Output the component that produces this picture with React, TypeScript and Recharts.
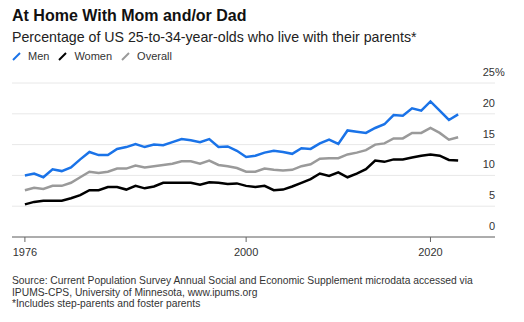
import React from 'react';
import { LineChart, Line, XAxis, YAxis, CartesianGrid } from 'recharts';

const years = [
  1976, 1977, 1978, 1979, 1980, 1981, 1982, 1983, 1984, 1985, 1986, 1987,
  1988, 1989, 1990, 1991, 1992, 1993, 1994, 1995, 1996, 1997, 1998, 1999,
  2000, 2001, 2002, 2003, 2004, 2005, 2006, 2007, 2008, 2009, 2010, 2011,
  2012, 2013, 2014, 2015, 2016, 2017, 2018, 2019, 2020, 2021, 2022, 2023,
];

const men = [
  10.0, 10.3, 9.7, 11.0, 10.7, 11.3, 12.6, 13.8, 13.3, 13.3, 14.3, 14.6,
  15.1, 14.6, 15.0, 14.9, 15.4, 15.9, 15.7, 15.4, 15.9, 14.6, 14.7, 14.0,
  13.0, 13.2, 13.7, 14.0, 13.8, 13.5, 14.4, 14.3, 15.2, 15.8, 15.1, 17.3,
  17.1, 16.9, 17.7, 18.3, 19.8, 19.7, 20.9, 20.5, 22.0, 20.5, 19.0, 19.9,
];

const women = [
  5.3, 5.7, 5.9, 5.9, 5.9, 6.3, 6.8, 7.6, 7.6, 8.1, 8.1, 7.7,
  8.3, 7.9, 8.2, 8.8, 8.8, 8.8, 8.8, 8.5, 8.9, 8.8, 8.6, 8.7,
  8.3, 8.1, 8.3, 7.6, 7.7, 8.2, 8.8, 9.4, 10.3, 9.9, 10.5, 9.7,
  10.3, 11.0, 12.4, 12.2, 12.6, 12.6, 12.9, 13.2, 13.4, 13.2, 12.5, 12.4,
];

const overall = [
  7.6, 8.0, 7.8, 8.3, 8.3, 8.8, 9.7, 10.6, 10.4, 10.6, 11.1, 11.1,
  11.6, 11.3, 11.5, 11.7, 11.9, 12.3, 12.3, 11.9, 12.4, 11.7, 11.5, 11.2,
  10.6, 10.6, 11.1, 10.9, 10.8, 10.9, 11.5, 11.8, 12.7, 12.8, 12.8, 13.4,
  13.7, 14.1, 15.0, 15.2, 16.0, 16.0, 16.9, 16.9, 17.7, 16.9, 15.8, 16.2,
];

const xTicks = [1976, 2000, 2020];
const yTicks = [0, 5, 10, 15, 20, 25];

const data = years.map((year, i) => ({
  year,
  men: men[i],
  women: women[i],
  overall: overall[i],
}));

const FONT = '"Liberation Sans", Arial, Helvetica, sans-serif';

const YTick = (props: any) => {
  const { x, y, payload } = props;
  return (
    <g>
      <text x={x} y={y - 7} textAnchor="end" fontSize={11} fill="#333" fontFamily={FONT}>
        {payload.value}
      </text>
      {payload.value === 25 && (
        <text x={x} y={y - 7} textAnchor="start" fontSize={11} fill="#333" fontFamily={FONT}>
          %
        </text>
      )}
    </g>
  );
};

const LegendItem = ({ color, label }: { color: string; label: string }) => (
  <span style={{ display: 'inline-flex', alignItems: 'center', marginRight: 9 }}>
    <svg width={9} height={9} style={{ marginRight: 7 }}>
      <line x1={1} y1={8} x2={8} y2={1} stroke={color} strokeWidth={2} />
    </svg>
    <span>{label}</span>
  </span>
);

export default function App() {
  return (
    <div
      style={{
        position: 'relative',
        width: 524,
        height: 322,
        background: '#fff',
        fontFamily: FONT,
        color: '#222',
        overflow: 'hidden',
      }}
    >
      <style>{`body { margin: 0; }`}</style>
      <div style={{ position: 'absolute', left: 12, top: 7, fontSize: 16, fontWeight: 700, color: '#111' }}>
        At Home With Mom and/or Dad
      </div>
      <div style={{ position: 'absolute', left: 12, top: 29, fontSize: 14.2, color: '#222' }}>
        Percentage of US 25-to-34-year-olds who live with their parents*
      </div>
      <div
        style={{
          position: 'absolute',
          left: 12,
          top: 50,
          fontSize: 11,
          color: '#333',
          display: 'flex',
        }}
      >
        <LegendItem color="#1a73e8" label="Men" />
        <LegendItem color="#000" label="Women" />
        <LegendItem color="#9a9a9a" label="Overall" />
      </div>

      <div style={{ position: 'absolute', left: 0, top: 60 }}>
        <LineChart
          width={524}
          height={210}
          data={data}
          margin={{ top: 23, right: 29, left: 12, bottom: 3 }}
        >
          <CartesianGrid vertical={false} stroke="#e8e8e8" />
          <XAxis
            dataKey="year"
            type="number"
            domain={[1974.6, 2027]}
            ticks={xTicks}
            allowDataOverflow
            height={30}
            tickSize={5}
            tickMargin={6}
            stroke="#666"
            tick={{ fontSize: 11, fill: '#333', fontFamily: FONT }}
          />
          <YAxis
            orientation="right"
            mirror
            domain={[0, 25]}
            ticks={yTicks}
            axisLine={false}
            tickLine={false}
            tickSize={0}
            tickMargin={0}
            tick={<YTick />}
          />
          <Line
            dataKey="overall"
            stroke="#9a9a9a"
            strokeWidth={2.5}
            dot={false}
            isAnimationActive={false}
          />
          <Line
            dataKey="women"
            stroke="#000"
            strokeWidth={2.5}
            dot={false}
            isAnimationActive={false}
          />
          <Line
            dataKey="men"
            stroke="#1a73e8"
            strokeWidth={2.5}
            dot={false}
            isAnimationActive={false}
          />
        </LineChart>
      </div>

      <div
        style={{
          position: 'absolute',
          left: 12,
          top: 275,
          fontSize: 10.3,
          lineHeight: '11.7px',
          color: '#333',
        }}
      >
        Source: Current Population Survey Annual Social and Economic Supplement microdata accessed via
        <br />
        IPUMS-CPS, University of Minnesota, www.ipums.org
        <br />
        *Includes step-parents and foster parents
      </div>
    </div>
  );
}
